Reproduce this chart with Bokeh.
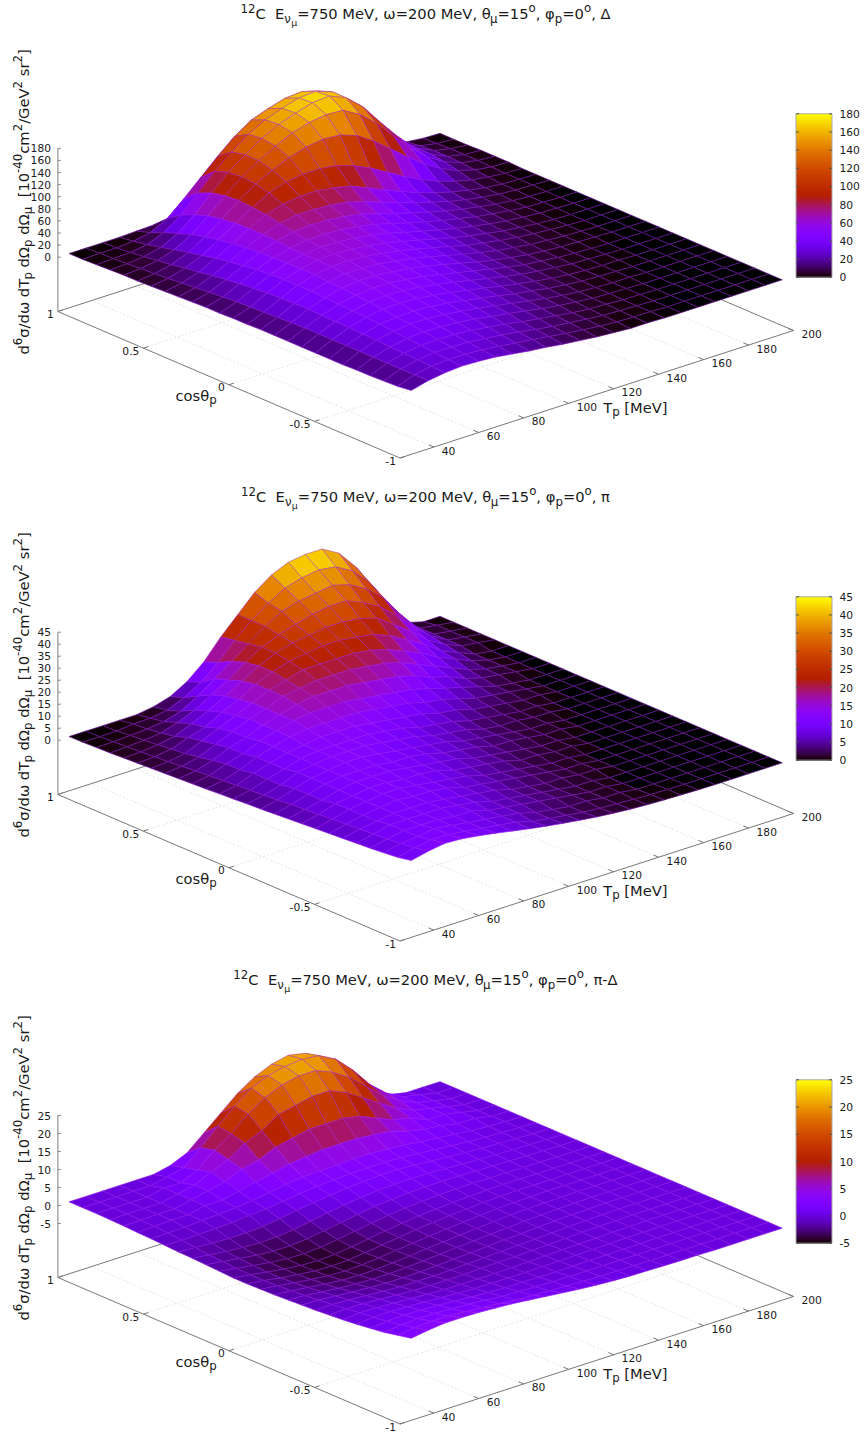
import math
from bokeh.plotting import figure
from bokeh.models import Range1d, ColumnDataSource
from bokeh.core.properties import value
from bokeh.embed import file_html
from bokeh.resources import INLINE

COS = [1, .92, .84, .76, .68, .6, .52, .44, .36, .28, .2, .12, .04, -.04, -.12, -.2, -.28, -.36, -.44, -.52, -.6, -.68, -.76, -.84, -.92, -1]
TP = [30, 37.5, 45, 52.5, 60, 67.5, 75, 82.5, 90, 97.5, 105, 112.5, 120, 127.5, 135, 142.5, 150, 157.5, 165, 172.5, 180, 187.5, 195]

Z_DELTA = [
[0,0,0,0,1,2,4,12,30,55,80,100,115,122,118,100,75,50,28,12,4,1,0],
[0,1,1,3,8,22,46,72,98,122,140,150,158,160,152,130,100,70,40,18,7,2,0],
[1,2,3,7,18,38,65,92,115,135,150,160,168,170,160,138,106,74,44,22,9,3,0],
[2,3,6,12,26,48,75,100,120,138,152,162,170,172,160,136,102,70,42,22,9,3,1],
[3,5,9,18,34,56,80,102,120,135,148,156,160,158,142,118,88,60,36,19,8,3,1],
[3,6,12,23,40,60,82,100,114,126,134,138,136,126,108,86,64,43,26,14,6,2,1],
[4,8,16,28,45,63,80,95,104,108,108,104,95,82,66,50,36,24,15,8,4,1,0],
[5,10,19,33,48,64,78,86,90,90,86,80,68,56,44,33,24,16,10,5,2,1,0],
[6,12,23,37,51,64,73,78,78,76,72,64,54,44,35,27,19,13,8,4,2,1,0],
[7,14,26,40,53,63,69,71,70,67,62,54,45,37,29,22,16,11,6,3,1,0,0],
[8,16,29,43,54,61,65,66,64,60,55,47,39,32,25,19,13,9,5,2,1,0,0],
[8,18,31,45,55,60,63,62,60,56,50,42,35,28,22,16,11,7,4,2,1,0,0],
[9,19,33,46,55,60,62,60,57,52,46,39,32,25,19,14,9,6,3,1,0,0,0],
[9,20,34,46,55,59,60,58,54,49,43,36,29,22,17,12,8,5,3,1,0,0,0],
[10,21,35,46,53,57,57,55,51,46,40,33,26,20,14,10,6,4,2,1,0,0,0],
[10,22,35,45,52,55,55,52,48,43,37,30,23,17,12,8,5,3,2,1,0,0,0],
[10,23,35,44,50,53,52,49,45,39,33,27,21,15,10,7,4,2,1,0,0,0,0],
[10,23,34,43,48,50,49,46,41,36,30,24,18,13,9,6,3,2,1,0,0,0,0],
[10,23,34,42,46,47,46,42,38,32,27,21,16,11,7,4,2,1,1,0,0,0,0],
[10,23,33,40,43,44,42,39,34,29,24,18,14,9,6,3,2,1,0,0,0,0,0],
[10,23,32,38,41,41,39,35,31,26,21,16,11,7,4,2,1,1,0,0,0,0,0],
[11,23,31,36,38,37,35,32,27,23,18,13,9,6,3,2,1,0,0,0,0,0,0],
[11,23,30,34,35,34,32,28,24,19,15,11,7,4,3,1,1,0,0,0,0,0,0],
[12,23,29,32,32,31,28,25,21,16,12,9,6,3,2,1,0,0,0,0,0,0,0],
[13,23,28,30,30,28,25,21,18,14,10,7,4,2,1,1,0,0,0,0,0,0,0],
[16,23,27,29,28,26,22,18,15,11,8,5,3,1,1,0,0,0,0,0,0,0,0],
]

Z_PI = [
[0,0,0,0,0,1,3,7,13,21,28,35,40,43,44,44,40,32,20,9,2,0,0],
[.1,.1,.2,.8,1,2,5,9,15,22,28,33,37,39,40,39,35,28,18,8,2,1,0],
[.3,.4,.8,1.2,2,4,8,13,18,23,28,32,34,35,36,34,30,24,15,7,2,1,0],
[.5,.8,1.2,2,4,7,11,15,20,24,27,29,31,32,32,29,25,19,12,6,2,1,0],
[.8,1.1,1.8,3,6,9,13,17,21,24,26,27,28,28,27,25,20,15,9,5,2,1,0],
[1.1,1.5,2.4,5,7,11,14,18,21,23,24,25,25,24,23,20,16,12,7,4,1,0,0],
[1.4,1.9,3,6,9,12,15,18,20,22,22,22,22,21,19,16,13,9,6,3,1,0,0],
[1.7,2.4,4,7,10,13,15,18,19,20,20,20,19,18,16,13,10,7,4,2,1,0,0],
[2,2.9,5,8,10,13,15,17,18,18,18,17,16,15,13,10,8,5,3,2,1,0,0],
[2.3,3.4,6,8,11,13,15,16,16,16,15,14,13,12,10,8,6,4,2,1,0,0,0],
[2.6,3.8,6,9,11,13,14,14,14,14,13,12,11,9,8,6,4,3,2,1,0,0,0],
[3,4.2,7,9,11,12,13,13,13,12,11,10,9,7,6,4,3,2,1,1,0,0,0],
[3.3,4.6,7,9,11,12,12,12,12,11,10,8,7,6,4,3,2,1,1,0,0,0,0],
[3.7,5,7,10,11,12,12,12,11,10,9,7,6,5,3,2,2,1,1,0,0,0,0],
[4,5.5,8,10,11,12,12,11,10,9,8,7,5,4,3,2,1,1,0,0,0,0,0],
[4.4,6,8,10,11,11,11,10,10,9,7,6,5,3,3,2,1,1,0,0,0,0,0],
[4.8,6.4,8,10,11,11,11,10,9,8,7,5,4,3,2,1,1,0,0,0,0,0,0],
[5.2,6.8,9,10,11,11,10,10,9,7,6,5,4,2,2,1,1,0,0,0,0,0,0],
[5.6,7.2,9,10,11,11,10,9,8,7,5,4,3,2,1,1,0,0,0,0,0,0,0],
[6,7.6,9,10,11,10,10,9,7,6,5,4,3,2,1,1,0,0,0,0,0,0,0],
[6.4,8,9,10,10,10,9,8,7,6,4,3,2,2,1,1,0,0,0,0,0,0,0],
[6.8,8.4,10,10,10,10,9,8,6,5,4,3,2,1,1,0,0,0,0,0,0,0,0],
[7.2,8.8,10,10,10,9,9,7,6,5,4,3,2,1,1,0,0,0,0,0,0,0,0],
[7.7,9.3,10,11,10,9,8,7,6,4,3,2,2,1,1,0,0,0,0,0,0,0,0],
[8.3,10,11,11,10,9,8,7,5,4,3,2,1.4,1,.6,.3,.1,0,0,0,0,0,0],
[9.4,11,12,11.6,10.6,9.4,8,6.7,5.5,4.4,3.4,2.5,1.8,1.2,.8,.5,.3,.1,0,0,0,0,0],
]

Z_PI_DELTA = [
[0,0,0,0,0,0,1,3,7,11,15,18,20,21,20,17,12.5,7.5,4,1,0,0,0],
[0,0,0,0,0,1,2,6,10.5,14.5,18,20,21,21.5,21,18.5,14,8.5,4.5,2,1,0,0],
[0,0,0,0,1,1,3,7,10,14,17,19,20,20,18,15,11,7,4,2,1,0,0],
[-.1,0,0,0,1,2,4,6,9,11,14,15,16,16,14,11,8,5,3,2,1,0,0],
[-.2,-.1,0,0,1,2,3,5,6,8,9,10,10,10,9,7,5,4,2,2,1,0,0],
[-.4,-.2,0,0,1,1,2,3,4,5,5.5,6,6,6,5.5,5,3.5,2.5,2,1,1,0,0],
[-.5,-.4,-.3,0,.2,.6,1,1.7,2.5,3,3.2,3.3,3.5,3.5,3.2,2.8,2.2,1.7,1.2,.7,.4,.2,0],
[-.7,-.8,-.7,-.6,-.4,0,.3,.9,1.5,2,2.3,2.5,2.6,2.6,2.4,2,1.6,1.2,.8,.5,.3,.1,0],
[-.9,-1.2,-1.5,-1.7,-1.7,-1.4,-.8,0,.6,1.2,1.7,2,2.3,2.3,2,1.6,1.2,.9,.6,.4,.2,.1,0],
[-1,-1.6,-2.2,-2.6,-2.8,-2.7,-2.2,-1.4,-.6,.1,.7,1.1,1.3,1.4,1.3,1.1,.9,.6,.4,.3,.2,.1,0],
[-1.2,-1.8,-2.5,-3.1,-3.5,-3.5,-3.1,-2.4,-1.6,-.9,-.2,.2,.5,.7,.7,.7,.5,.4,.3,.2,.1,0,0],
[-1.4,-2.1,-2.8,-3.5,-4,-4.1,-3.8,-3.2,-2.4,-1.7,-1,-.5,-.2,.1,.2,.3,.2,.2,.1,.1,0,0,0],
[-1.6,-2.2,-3,-3.7,-4.2,-4.4,-4.2,-3.6,-2.9,-2.2,-1.6,-1.1,-.7,-.4,-.2,0,.1,.1,0,0,0,0,0],
[-1.6,-2.2,-3,-3.6,-4.1,-4.3,-4.1,-3.6,-3,-2.4,-1.8,-1.3,-.9,-.6,-.3,-.1,0,0,0,0,0,0,0],
[-1.5,-2,-2.7,-3.3,-3.8,-4,-3.8,-3.4,-2.9,-2.4,-1.9,-1.5,-1.1,-.7,-.4,-.2,-.1,0,0,0,0,0,0],
[-1.4,-1.8,-2.4,-3,-3.4,-3.6,-3.5,-3.2,-2.8,-2.3,-1.9,-1.5,-1.2,-.8,-.5,-.3,-.2,-.1,0,0,0,0,0],
[-1.2,-1.5,-2,-2.5,-2.8,-3,-3,-2.8,-2.5,-2.2,-1.8,-1.5,-1.2,-.9,-.6,-.4,-.2,-.1,0,0,0,0,0],
[-1,-1.1,-1.5,-1.9,-2.2,-2.5,-2.5,-2.4,-2.2,-1.9,-1.7,-1.4,-1.1,-.9,-.6,-.4,-.2,-.1,0,0,0,0,0],
[-.8,-.7,-1,-1.3,-1.6,-1.9,-1.9,-1.9,-1.8,-1.6,-1.4,-1.2,-1,-.8,-.6,-.4,-.2,-.1,0,0,0,0,0],
[-.5,-.3,-.4,-.7,-1,-1.3,-1.4,-1.4,-1.4,-1.2,-1.1,-1,-.8,-.7,-.5,-.3,-.2,-.1,0,0,0,0,0],
[-.2,.2,.1,-.1,-.4,-.7,-.9,-1,-1,-1,-.9,-.8,-.7,-.5,-.4,-.3,-.2,-.1,0,0,0,0,0],
[.2,.6,.7,.5,.3,0,-.3,-.5,-.6,-.6,-.6,-.5,-.5,-.4,-.3,-.2,-.1,-.1,0,0,0,0,0],
[.7,1.1,1.3,1.2,1,.6,.3,0,-.2,-.2,-.3,-.3,-.3,-.2,-.2,-.1,-.1,0,0,0,0,0,0],
[1.2,1.7,2,1.9,1.7,1.4,1,.6,.4,.2,.1,0,0,0,0,0,0,0,0,0,0,0,0],
[2,2.6,2.9,2.8,2.5,2.1,1.7,1.2,.9,.7,.5,.3,.2,.1,.1,0,0,0,0,0,0,0,0],
[2.8,3.5,4,4,3.9,3.6,3.3,2.8,2.3,1.8,1.3,.9,.6,.4,.3,.2,.1,.1,0,0,0,0,0],
]

COS_TICKS = [1, .5, 0, -.5, -1]
COS_TICK_LABELS = ["1", "0.5", "0", "-0.5", "-1"]
TP_TICKS = [40, 60, 80, 100, 120, 140, 160, 180, 200]
TP_TICK_LABELS = ["40", "60", "80", "100", "120", "140", "160", "180", "200"]
Z_TICKS_DELTA = [0, 20, 40, 60, 80, 100, 120, 140, 160, 180]
Z_TICKS_PI = [0, 5, 10, 15, 20, 25, 30, 35, 40, 45]
Z_TICKS_PI_DELTA = [-5, 0, 5, 10, 15, 20, 25]
TITLE_ENDS = ["Δ", "π", "π-Δ"]

FONT = value("DejaVu Sans")
W = {'0':.636,'1':.636,'2':.636,'3':.636,'4':.636,'5':.636,'6':.636,'7':.636,'8':.636,'9':.636,
     ' ':.318,'=':.838,',':.318,'M':.863,'e':.615,'V':.684,'ω':.782,'θ':.612,'μ':.636,'ν':.592,
     '°':.5,'φ':.66,'Δ':.684,'π':.603,'-':.361,'C':.698,'E':.632,'p':.635,'T':.611,'[':.39,']':.39,
     'c':.55,'o':.612,'s':.521,'d':.635,'σ':.634,'/':.337,'Ω':.764,'G':.775,'m':.974,'r':.411}
BASE = 14.7
KIND = {'n': (1.0, 0.0), 'sup': (.8, .45), 'sub': (.8, -.27), 'subsub': (.64, -.5)}
BASELINE_FIX = .34


def rgb(x):
    x = min(max(x, 0.0), 1.0)
    return (math.sqrt(x), x ** 3, max(math.sin(2 * math.pi * x), 0.0))


def hexc(c):
    return "#%02x%02x%02x" % tuple(round(v * 255) for v in c)


LINE = (0.627, 0.125, 0.941)


def mesh(c):
    return hexc(tuple(.4 * a + .6 * b for a, b in zip(c, LINE)))


p = figure(width=864, height=1437, x_range=Range1d(0, 864), y_range=Range1d(1437, 0),
           toolbar_location=None, output_backend="svg", min_border=0,
           x_axis_type=None, y_axis_type=None)
p.grid.visible = False
p.outline_line_color = None
p.background_fill_color = "white"


def run_width(runs):
    return sum(sum(W.get(ch, .6) for ch in t) * BASE * KIND[k][0] for t, k in runs)


def draw_runs(x, y, runs, vertical=False):
    pos = 0.0
    for t, k in runs:
        scale, rise = KIND[k]
        size = BASE * scale
        lead = len(t) - len(t.lstrip(" "))
        s = t.strip(" ")
        shift = pos + lead * W[' '] * size
        fix = BASELINE_FIX * size
        if vertical:
            tx, ty, ang = x - rise * BASE - fix, y - shift, math.pi / 2
        else:
            tx, ty, ang = x + shift, y - rise * BASE - fix, 0
        p.text([tx], [ty], text=[s], angle=ang, text_font=FONT,
               text_font_size=f"{size:.1f}px", text_color="#1a1a1a",
               text_baseline="alphabetic", text_align="left")
        pos += sum(W.get(ch, .6) for ch in t) * size


def small(x, y, s, align):
    p.text([x], [y], text=[s], text_font=FONT, text_font_size="10.7px", text_color="#1a1a1a",
           text_baseline="middle", text_align=align)


def panel(idx, Z, zticks, vmin, vmax, zs, zero_off):
    off = 483 * idx
    fy = 311 + off

    def pr(c, t, z=None):
        u = (1 - c) / 2
        v = (t - 25) / 175
        x = 57.3 + 342.2 * u + 393.5 * v
        y = fy + 146.5 * u - 127.5 * v
        if z is not None:
            y -= zero_off + zs * z
        return x, y

    xs, ys = [], []
    for c in COS_TICKS[1:-1]:
        a, b = pr(c, 25), pr(c, 200)
        xs.append([a[0], b[0]]); ys.append([a[1], b[1]])
    for t in TP_TICKS[:-1]:
        a, b = pr(-1, t), pr(1, t)
        xs.append([a[0], b[0]]); ys.append([a[1], b[1]])
    p.multi_line(xs, ys, line_color="#e0e0e0", line_width=0.8, line_dash="2 2")

    corners = [pr(1, 25), pr(-1, 25), pr(-1, 200), pr(1, 200), pr(1, 25)]
    p.line([a[0] for a in corners], [a[1] for a in corners], line_color="#777777", line_width=1)

    xs, ys = [], []
    for c in COS_TICKS:
        a, b = pr(c, 25), pr(c, 27.2)
        xs.append([a[0], b[0]]); ys.append([a[1], b[1]])
    for t in TP_TICKS:
        a, b = pr(-1, t), pr(-.97, t)
        xs.append([a[0], b[0]]); ys.append([a[1], b[1]])
    p.multi_line(xs, ys, line_color="#777777", line_width=1)

    x0, ytop = pr(1, 25, zticks[-1])
    p.line([x0, x0], [fy, ytop], line_color="#aaaaaa", line_width=1.5)
    p.segment([x0] * len(zticks), [pr(1, 25, z)[1] for z in zticks],
              [x0 + 3] * len(zticks), [pr(1, 25, z)[1] for z in zticks],
              line_color="#888888", line_width=1)
    for z in zticks:
        small(50.5, pr(1, 25, z)[1], str(z), "right")

    cells = []
    for i in range(len(COS) - 1):
        for j in range(len(TP) - 1):
            vals = [Z[i][j], Z[i][j + 1], Z[i + 1][j + 1], Z[i + 1][j]]
            pts = [pr(COS[i], TP[j], vals[0]), pr(COS[i], TP[j + 1], vals[1]),
                   pr(COS[i + 1], TP[j + 1], vals[2]), pr(COS[i + 1], TP[j], vals[3])]
            base = pr((COS[i] + COS[i + 1]) / 2, (TP[j] + TP[j + 1]) / 2)
            col = rgb((sum(vals) / 4 - vmin) / (vmax - vmin))
            cells.append((base[1], [a[0] for a in pts], [a[1] for a in pts], hexc(col), mesh(col)))
    cells.sort(key=lambda c: c[0])
    src = ColumnDataSource(dict(xs=[c[1] for c in cells], ys=[c[2] for c in cells],
                                col=[c[3] for c in cells], lin=[c[4] for c in cells]))
    p.patches("xs", "ys", source=src, fill_color="col", line_color="lin", line_width=0.7)

    for c, s in zip(COS_TICKS, COS_TICK_LABELS):
        a = pr(c, 25)
        small(a[0] - 4, a[1] + 2.5, s, "right")
    for t, s in zip(TP_TICKS, TP_TICK_LABELS):
        a = pr(-1, t)
        small(a[0] + 8, a[1] + 3.5, s, "left")

    bl, br, bb, bt = 795.5, 831.5, 276.7 + off, 113.3 + off
    n = 164
    vals = [vmin + (vmax - vmin) * k / n for k in range(n + 1)]
    yv = [bb - (v - vmin) / (vmax - vmin) * (bb - bt) for v in vals]
    p.quad(left=bl, right=br, bottom=[a + .7 for a in yv[:-1]], top=yv[1:],
           fill_color=[hexc(rgb((v - vmin) / (vmax - vmin))) for v in vals[:-1]], line_color=None)
    p.quad(left=[bl], right=[br], bottom=[bb], top=[bt], fill_color=None,
           line_color="#aaaaaa", line_width=1)
    for z in zticks:
        y = bb - (z - vmin) / (vmax - vmin) * (bb - bt)
        p.segment([bl, br - 3], [y, y], [bl + 3, br], [y, y], line_color="#555555", line_width=1)
        small(839, y, str(z), "left")

    title = [("12", 'sup'), ("C", 'n'), ("  E", 'n'), ("ν", 'sub'), ("μ", 'subsub'), ("=750 MeV, ω=200 MeV, θ", 'n'),
             ("μ", 'sub'), ("=15", 'n'), ("o", 'sup'), (",", 'n'), (" φ", 'n'), ("p", 'sub'), ("=0", 'n'), ("o", 'sup'),
             (",", 'n'), (" " + TITLE_ENDS[idx], 'n')]
    draw_runs(425 - run_width(title) / 2, 18.3 + off, title)
    ylab = [("d", 'n'), ("6", 'sup'), ("σ/dω dT", 'n'), ("p", 'sub'), (" dΩ", 'n'), ("p", 'sub'),
            (" dΩ", 'n'), ("μ", 'sub'), ("  [10", 'n'), ("-40", 'sup'), ("cm", 'n'), ("2", 'sup'),
            ("/GeV", 'n'), ("2", 'sup'), (" sr", 'n'), ("2", 'sup'), ("]", 'n')]
    draw_runs(27.5, 354 + off, ylab, vertical=True)
    draw_runs(175, 400 + off, [("cosθ", 'n'), ("p", 'sub')])
    draw_runs(602.7, 411.7 + off, [("T", 'n'), ("p", 'sub'), (" [MeV]", 'n')])


panel(0, Z_DELTA, Z_TICKS_DELTA, 0, 180, 0.605, 54.3)
panel(1, Z_PI, Z_TICKS_PI, 0, 45, 2.4, 54.3)
panel(2, Z_PI_DELTA, Z_TICKS_PI_DELTA, -5, 25, 3.6, 72)

open("out.html", "w").write(file_html(p, INLINE))
